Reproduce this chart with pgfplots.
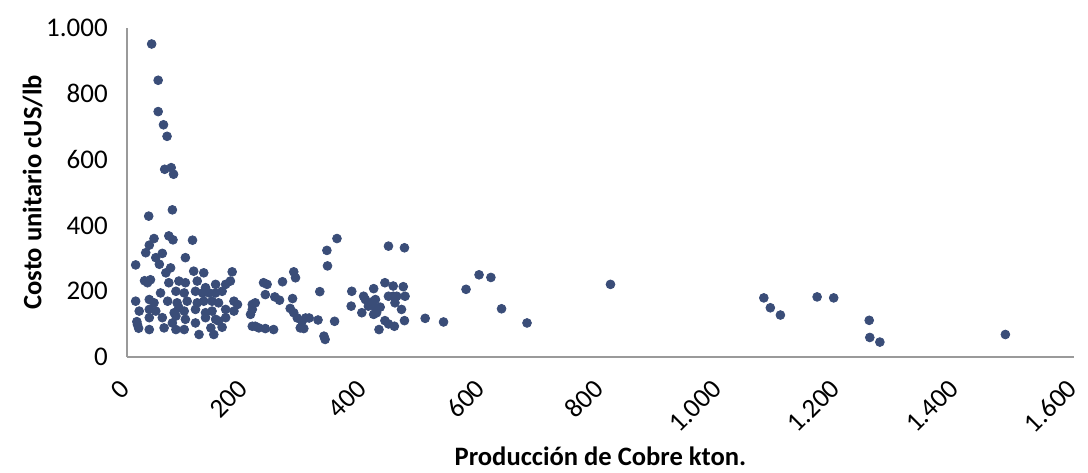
\documentclass[border=0pt]{standalone}
\usepackage{pgfplots}
\pgfplotsset{compat=1.18}
\usepackage{fontspec}
\setmainfont{Carlito}
\definecolor{dotblue}{HTML}{3A4D78}
\definecolor{axisgray}{HTML}{9A9A9A}

\begin{document}
\begin{tikzpicture}
\begin{axis}[
  scale only axis,width=474pt,height=165pt,
  xmin=0,xmax=1600,ymin=0,ymax=1000,
  xtick={0,200,...,1600},ytick={0,200,...,1000},
  axis x line*=bottom,axis y line*=left,
  axis line style={axisgray,line width=0.8pt,-},
  major tick style={draw=none},
  /pgf/number format/.cd,1000 sep={.},assume math mode=true,
  /pgfplots/.cd,
  ticklabel style={font=\fontsize{13.5}{15}\selectfont},
  yticklabel style={xshift=-6pt},
  xticklabel style={xshift=1.5pt,yshift=-11pt,rotate=45,anchor=east},
  xlabel={\textbf{Producción de Cobre kton.}},
  ylabel={\textbf{Costo unitario cUS/lb}},
  label style={font=\fontsize{13.3}{15}\selectfont},
  xlabel style={yshift=2pt},
  ylabel style={yshift=-5pt},
]
\addplot[only marks,mark=*,mark size=2.2pt,dotblue,mark options={draw=dotblue,fill=dotblue}] table {
x y
42 950
53 840
53 745
62 705
68 670
64 570
75 575
79 555
77 447
37 428
46 360
71 368
78 356
111 355
38 340
32 317
60 315
15 280
49 302
55 282
99 302
74 271
66 256
113 261
130 256
178 259
35 226
30 232
40 235
71 226
88 231
99 226
119 231
133 211
150 221
167 221
175 231
57 195
83 200
97 195
116 200
128 195
139 195
150 195
161 200
15 170
38 175
46 165
69 170
85 165
102 170
119 165
130 170
144 170
155 165
181 170
187 160
21 140
38 145
49 140
88 150
80 135
97 140
116 145
133 135
144 140
167 145
181 140
38 120
60 120
83 125
99 115
133 120
150 115
167 120
155 110
18 99
17 108
20 88
38 84
63 89
77 104
83 84
97 84
116 104
122 69
142 89
147 69
161 91
355 360
338 324
339 277
282 259
285 241
231 226
237 221
263 229
326 199
234 190
250 183
258 173
280 178
217 165
212 145
209 130
212 160
276 148
282 135
288 119
296 109
302 119
308 119
323 113
351 109
293 89
299 87
212 94
217 94
234 87
248 84
333 64
335 54
223 89
442 337
469 332
436 226
450 216
467 214
417 208
380 200
400 185
403 175
417 170
420 175
442 185
450 185
456 185
470 185
379 155
408 155
420 150
428 152
453 165
397 135
417 130
422 135
464 145
436 111
442 101
452 94
469 111
426 84
504 118
535 107
573 206
595 250
615 242
633 147
676 104
817 221
1076 180
1087 150
1104 128
1166 183
1194 180
1254 112
1255 60
1272 46
1484 69
};
\end{axis}
\path (current bounding box.north) -- ++(0,6pt);
\path (current bounding box.west) -- ++(-8pt,0);
\end{tikzpicture}
\end{document}
